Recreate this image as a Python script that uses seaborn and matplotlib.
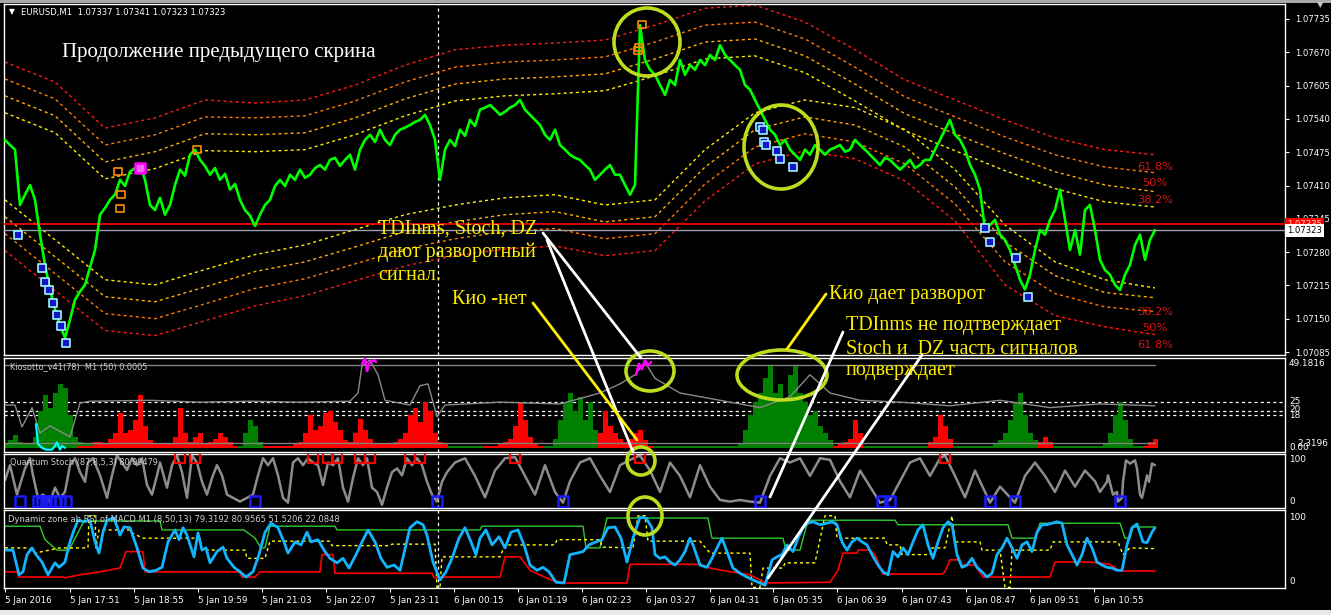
import numpy as np
import matplotlib
matplotlib.use("Agg")
import matplotlib.pyplot as plt
from matplotlib.patches import Ellipse, Rectangle
from matplotlib.lines import Line2D
import seaborn as sns

sns.set_theme(style="ticks")
plt.rcParams["font.family"] = ["DejaVu Sans"]
plt.rcParams["axes.facecolor"] = "black"
plt.rcParams["figure.facecolor"] = "black"

# ------------------------------------------------------------------ data
time_ticks = [5, 70, 134, 198, 262, 326, 390, 454, 518, 582, 646, 710, 773, 837, 902, 966, 1030, 1094]
time_labels = ["5 Jan 2016", "5 Jan 17:51", "5 Jan 18:55", "5 Jan 19:59", "5 Jan 21:03", "5 Jan 22:07",
               "5 Jan 23:11", "6 Jan 00:15", "6 Jan 01:19", "6 Jan 02:23", "6 Jan 03:27", "6 Jan 04:31",
               "6 Jan 05:35", "6 Jan 06:39", "6 Jan 07:43", "6 Jan 08:47", "6 Jan 09:51", "6 Jan 10:55"]
day_break = 438

price_ticks = [1.07735, 1.07670, 1.07605, 1.07540, 1.07475, 1.07410, 1.07345, 1.07280, 1.07215, 1.07150, 1.07085]
ask_level = 1.07335
bid_level = 1.07323

close = [
    1.07499, 1.07489, 1.07480, 1.07372, 1.07392, 1.07411, 1.07382, 1.07314, 1.07255, 1.07207,
    1.07168, 1.07138, 1.07113, 1.07148, 1.07187, 1.07203, 1.07216, 1.07250, 1.07284, 1.07353,
    1.07366, 1.07382, 1.07392, 1.07421, 1.07409, 1.07437, 1.07444, 1.07450, 1.07421, 1.07372,
    1.07362, 1.07386, 1.07353, 1.07372, 1.07411, 1.07441, 1.07429, 1.07470, 1.07480, 1.07460,
    1.07448, 1.07431, 1.07444, 1.07421, 1.07433, 1.07402, 1.07413, 1.07382, 1.07362, 1.07351,
    1.07331, 1.07353, 1.07372, 1.07382, 1.07409, 1.07421, 1.07409, 1.07431, 1.07421, 1.07441,
    1.07425, 1.07431, 1.07444, 1.07450, 1.07441, 1.07460, 1.07464, 1.07448, 1.07460, 1.07470,
    1.07441, 1.07480, 1.07499, 1.07509, 1.07495, 1.07519, 1.07499, 1.07489, 1.07509, 1.07519,
    1.07523, 1.07528, 1.07534, 1.07538, 1.07548, 1.07528, 1.07499, 1.07421, 1.07480, 1.07499,
    1.07487, 1.07519, 1.07507, 1.07538, 1.07526, 1.07558, 1.07562, 1.07567, 1.07558, 1.07548,
    1.07554, 1.07562, 1.07567, 1.07577, 1.07558, 1.07548, 1.07538, 1.07528, 1.07509, 1.07499,
    1.07519, 1.07489, 1.07480, 1.07470, 1.07464, 1.07460, 1.07450, 1.07441, 1.07421, 1.07431,
    1.07441, 1.07450, 1.07431, 1.07431, 1.07411, 1.07392, 1.07411, 1.07723, 1.07655, 1.07636,
    1.07626, 1.07606, 1.07587, 1.07616, 1.07606, 1.07655, 1.07626, 1.07645, 1.07636, 1.07655,
    1.07645, 1.07665, 1.07655, 1.07684, 1.07665, 1.07655, 1.07645, 1.07636, 1.07606, 1.07597,
    1.07577, 1.07558, 1.07538, 1.07519, 1.07509, 1.07489, 1.07499, 1.07480, 1.07470, 1.07460,
    1.07480, 1.07470, 1.07489, 1.07480, 1.07470, 1.07480, 1.07484, 1.07489, 1.07476, 1.07480,
    1.07499, 1.07489, 1.07480, 1.07470, 1.07460, 1.07450, 1.07464, 1.07460, 1.07450, 1.07441,
    1.07450, 1.07460, 1.07444, 1.07450, 1.07460, 1.07460, 1.07480, 1.07499, 1.07519, 1.07538,
    1.07509, 1.07499, 1.07480, 1.07450, 1.07431, 1.07402, 1.07323, 1.07333, 1.07343, 1.07314,
    1.07304, 1.07284, 1.07255, 1.07226, 1.07207, 1.07236, 1.07284, 1.07323, 1.07314, 1.07343,
    1.07362, 1.07402, 1.07343, 1.07284, 1.07323, 1.07275, 1.07362, 1.07372, 1.07323, 1.07265,
    1.07245, 1.07236, 1.07216, 1.07206, 1.07236, 1.07255, 1.07294, 1.07314, 1.07265, 1.07304,
    1.07323,
]

band_upper_red = [1.07651, 1.07612, 1.07522, 1.07542, 1.07577, 1.07571, 1.07577, 1.07606, 1.07645, 1.07675,
                  1.07684, 1.07688, 1.07694, 1.07723, 1.07756, 1.07762, 1.07729, 1.07675, 1.07616, 1.07577,
                  1.07538, 1.07503, 1.07480, 1.07470]
band_upper_orange = [1.07618, 1.07579, 1.07489, 1.07509, 1.07544, 1.07542, 1.07546, 1.07575, 1.07612, 1.07641,
                     1.07651, 1.07655, 1.07661, 1.07690, 1.07723, 1.07729, 1.07696, 1.07641, 1.07583, 1.07544,
                     1.07505, 1.07470, 1.07446, 1.07435]
band_upper_gold = [1.07585, 1.07546, 1.07456, 1.07476, 1.07511, 1.07509, 1.07513, 1.07542, 1.07579, 1.07608,
                   1.07618, 1.07622, 1.07628, 1.07657, 1.07690, 1.07696, 1.07663, 1.07608, 1.07550, 1.07511,
                   1.07472, 1.07437, 1.07411, 1.07398]
band_upper_yellow = [1.07552, 1.07513, 1.07423, 1.07443, 1.07478, 1.07476, 1.07480, 1.07509, 1.07546, 1.07575,
                     1.07585, 1.07589, 1.07595, 1.07624, 1.07657, 1.07663, 1.07630, 1.07575, 1.07517, 1.07478,
                     1.07439, 1.07404, 1.07378, 1.07368]
band_lower_yellow = [1.07382, 1.07304, 1.07226, 1.07216, 1.07246, 1.07275, 1.07294, 1.07324, 1.07353, 1.07372,
                     1.07386, 1.07392, 1.07372, 1.07382, 1.07480, 1.07552, 1.07577, 1.07562, 1.07519, 1.07441,
                     1.07333, 1.07261, 1.07226, 1.07210]
band_lower_gold = [1.07349, 1.07271, 1.07193, 1.07183, 1.07212, 1.07242, 1.07261, 1.07290, 1.07320, 1.07339,
                   1.07353, 1.07359, 1.07339, 1.07349, 1.07446, 1.07519, 1.07544, 1.07528, 1.07485, 1.07407,
                   1.07300, 1.07234, 1.07201, 1.07191]
band_lower_orange = [1.07316, 1.07238, 1.07160, 1.07150, 1.07179, 1.07209, 1.07228, 1.07257, 1.07286, 1.07306,
                     1.07320, 1.07326, 1.07306, 1.07316, 1.07413, 1.07485, 1.07511, 1.07495, 1.07452, 1.07374,
                     1.07261, 1.07199, 1.07173, 1.07164]
band_lower_red = [1.07283, 1.07205, 1.07127, 1.07117, 1.07146, 1.07175, 1.07195, 1.07224, 1.07253, 1.07273,
                  1.07286, 1.07292, 1.07273, 1.07283, 1.07380, 1.07452, 1.07478, 1.07462, 1.07419, 1.07341,
                  1.07216, 1.07156, 1.07134, 1.07119]
fib_labels = ["61.8%", "50%", "38.2%", "38.2%", "50%", "61.8%"]
fib_prices = [1.07446, 1.07415, 1.07382, 1.07164, 1.07131, 1.07099]

buy_sig_bar = [18, 42, 45, 49, 53, 57, 61, 66, 760, 763, 764, 766, 777, 780, 793, 985, 990, 1016, 1028]
buy_sig_price = [1.07314, 1.07249, 1.07222, 1.07206, 1.07181, 1.07157, 1.07136, 1.07103, 1.07524, 1.07519,
                 1.07495, 1.07489, 1.07478, 1.07462, 1.07446, 1.07327, 1.07300, 1.07269, 1.07193]
sell_sig_bar = [118, 121, 120, 197, 642, 639, 638]
sell_sig_price = [1.07437, 1.07392, 1.07366, 1.07480, 1.07725, 1.07679, 1.07673]
extreme_sig_bar = [140]
extreme_sig_price = [1.07444]

kio_green = [2, 4, 7, 3, 2, 2, 6, 20, 29, 22,
             30, 35, 33, 18, 6, 3, 2, 2, 1, 0,
             0, 0, 0, 0, 0, 0, 0, 0, 0, 0,
             0, 0, 0, 0, 0, 0, 0, 0, 0, 0,
             0, 0, 0, 0, 0, 0, 0, 1, 8, 15,
             12, 3, 1, 1, 0, 0, 0, 0, 0, 0,
             0, 0, 0, 0, 0, 0, 0, 0, 0, 0,
             0, 0, 0, 0, 0, 0, 0, 0, 0, 0,
             0, 0, 0, 0, 0, 0, 0, 0, 1, 1,
             1, 1, 1, 1, 1, 1, 0, 0, 0, 0,
             0, 0, 0, 0, 0, 0, 0, 0, 1, 1,
             5, 15, 25, 30, 20, 28, 15, 25, 10, 5,
             0, 0, 0, 0, 0, 0, 0, 0, 0, 0,
             1, 1, 1, 1, 1, 1, 1, 1, 1, 1,
             1, 1, 1, 1, 1, 1, 1, 2, 10, 18,
             25, 30, 38, 45, 30, 35, 25, 40, 45, 30,
             25, 18, 20, 12, 8, 4, 0, 0, 0, 0,
             0, 0, 1, 1, 1, 1, 1, 1, 1, 1,
             1, 1, 1, 1, 1, 0, 0, 0, 0, 0,
             1, 1, 1, 1, 1, 1, 1, 1, 2, 4,
             8, 15, 25, 30, 18, 8, 4, 0, 0, 0,
             1, 1, 1, 1, 1, 1, 1, 1, 1, 1,
             2, 8, 18, 25, 15, 5, 1, 1, 1, 0,
             0]
kio_red = [0, 0, 0, 0, 0, 0, 0, 0, 0, 0,
           0, 0, 0, 0, 0, 1, 1, 1, 3, 3,
           2, 5, 8, 19, 8, 10, 15, 29, 12, 4,
           2, 2, 2, 2, 6, 22, 8, 3, 6, 8,
           2, 3, 5, 8, 6, 3, 1, 0, 0, 0,
           0, 0, 1, 1, 1, 1, 1, 1, 2, 3,
           8, 18, 10, 12, 19, 20, 14, 10, 4, 3,
           8, 16, 10, 5, 2, 2, 2, 2, 3, 5,
           8, 18, 22, 14, 25, 20, 8, 3, 2, 0,
           0, 0, 0, 0, 0, 0, 1, 1, 1, 2,
           3, 5, 12, 25, 15, 6, 2, 1, 0, 0,
           0, 0, 0, 0, 0, 0, 0, 0, 0, 8,
           20, 12, 8, 5, 3, 5, 8, 10, 4, 1,
           0, 0, 0, 0, 0, 0, 0, 0, 0, 0,
           0, 0, 0, 0, 0, 0, 0, 0, 0, 0,
           0, 0, 0, 0, 0, 0, 0, 0, 0, 0,
           0, 0, 0, 0, 0, 0, 1, 2, 3, 5,
           15, 8, 0, 0, 0, 0, 0, 0, 0, 0,
           0, 0, 0, 0, 0, 3, 6, 18, 12, 5,
           0, 0, 0, 0, 0, 0, 0, 0, 0, 0,
           0, 0, 0, 0, 0, 0, 0, 3, 6, 3,
           0, 0, 0, 0, 0, 0, 0, 0, 0, 0,
           0, 0, 0, 0, 0, 0, 0, 0, 1, 3,
           5]
kio_line_bar = [5, 15, 22, 32, 40, 50, 60, 70, 80, 90, 150, 200, 250, 300, 350, 358, 362, 370, 378, 385, 410,
                420, 428, 437, 445, 500, 560, 600, 620, 635, 645, 655, 680, 720, 760, 790, 810, 830, 860, 900,
                950, 1000, 1050, 1100, 1155]
kio_line_val = [23.4, 23.4, 11.4, 22, 8.1, 12, 9, 6, 24.5, 25.5, 26, 25, 25.5, 25, 25.5, 30, 45, 48, 40, 26, 23.4,
                34, 35, 17, 23.4, 25, 24, 30, 35, 40, 47, 38, 30, 26, 22, 28, 40, 30, 26, 25,
                23, 26, 22, 24, 23]
kio_magenta_bar = [362, 365, 367, 370, 374, 376]
kio_magenta_val = [46, 49, 42, 47, 48, 47]
kio_magenta2_bar = [636, 639, 642, 645, 648, 651]
kio_magenta2_val = [40, 46, 43, 48, 45, 47]
kio_cyan_bar = [36, 38, 42, 46, 52, 55, 57, 60, 62, 65]
kio_cyan_val = [13, 2, 0, -1, -1, 1, 3, -1, 1, 0]
kio_top_level = 45.2
kio_bottom_level = 2.7
kio_levels = [25, 20, 18]

stoch_bar = [5, 10, 17, 25, 30, 33, 38, 43, 50, 55, 60, 65, 70, 75, 80, 85, 88, 93, 100, 107, 112, 117, 122, 127,
             132, 137, 142, 147, 152, 157, 160, 167, 172, 177, 182, 187, 192, 197, 202, 207, 212, 217, 222, 227,
             233, 240, 247, 253, 258, 263, 268, 273, 278, 283, 288, 293, 298, 303, 308, 313, 318, 323, 328, 333,
             338, 343, 348, 353, 358, 363, 367, 372, 377, 382, 387, 392, 397, 402, 407, 412, 417, 422, 427, 432,
             437, 442, 447, 455, 465, 475, 485, 495, 505, 515, 525, 535, 545, 555, 563, 570, 580, 590, 600, 610,
             620, 630, 640, 650, 660, 670, 680, 690, 700, 710, 720, 730, 740, 750, 760, 770, 780, 790, 800, 810,
             820, 830, 840, 850, 860, 870, 880, 890, 900, 910, 920, 930, 940, 945, 955, 965, 975, 985, 990, 1000,
             1010, 1015, 1025, 1035, 1045, 1055, 1065, 1075, 1085, 1095, 1100, 1107, 1108, 1113, 1117, 1118, 1122,
             1123, 1126, 1130, 1135, 1137, 1140, 1142, 1145, 1147, 1149, 1152, 1155]
stoch_val = [52, 80, 25, 74, 93, 61, 19, 25, 12, 38, 19, 30, 80, 93, 67, 49, 85, 93, 61, 19, 61, 98, 85, 71,
             93, 80, 93, 43, 25, 61, 85, 38, 80, 98, 67, 19, 98, 85, 49, 25, 56, 80, 61, 25,
             19, 12, 19, 25, 61, 93, 80, 93, 61, 19, 10, 85, 93, 80, 93, 85, 80, 43, 85, 80,
             93, 38, 12, 56, 93, 80, 93, 38, 30, 6, 38, 67, 74, 61, 93, 80, 93, 80, 49, 25,
             12, 49, 67, 85, 93, 60, 20, 70, 93, 95, 60, 25, 80, 30, 10, 50, 85, 93, 60, 30,
             80, 90, 98, 70, 30, 85, 60, 20, 80, 40, 15, 12, 15, 12, 10, 60, 93, 85, 93, 60,
             93, 90, 50, 20, 70, 40, 10, 15, 50, 85, 93, 60, 93, 98, 60, 20, 70, 30, 10, 40,
             20, 10, 60, 85, 60, 30, 70, 40, 70, 50, 30, 49, 61, 25, 30, 12, 19,
             49, 89, 83, 89, 74, 25, 19, 43, 61, 49, 83, 80]
stoch_ob_bar = [180, 195, 313, 328, 337, 360, 370, 410, 420, 515, 640, 945]
stoch_os_bar = [20, 38, 42, 46, 50, 55, 60, 66, 255, 437, 563, 760, 882, 890, 990, 1015, 1120]
stoch_ob_val = [93] * len(stoch_ob_bar)
stoch_os_val = [12] * len(stoch_os_bar)

dz_bar = [6, 13, 19, 23, 27, 32, 36, 42, 48, 55, 59, 65, 69, 74, 78, 84, 90, 95, 99, 103, 107, 114, 120, 124,
          130, 137, 143, 149, 156, 162, 168, 175, 179, 183, 187, 194, 198, 202, 206, 210, 217, 223, 227, 234,
          240, 246, 253, 259, 265, 271, 278, 284, 288, 295, 301, 307, 311, 318, 324, 330, 337, 343, 349, 356,
          362, 368, 375, 381, 387, 394, 400, 406, 410, 417, 423, 427, 433, 440, 446, 452, 459, 465, 471, 476,
          480, 486, 492, 499, 505, 511, 518, 524, 530, 537, 543, 549, 556, 564, 570, 577, 583, 589, 596, 602,
          608, 615, 621, 627, 633, 640, 646, 652, 655, 660, 665, 670, 675, 680, 685, 690, 693, 700, 707, 712,
          717, 722, 727, 733, 740, 747, 753, 760, 765, 768, 772, 777, 782, 787, 793, 798, 803, 808, 813, 820,
          827, 832, 837, 842, 847, 852, 857, 862, 867, 872, 878, 883, 888, 893, 898, 903, 908, 913, 918, 923,
          928, 933, 938, 943, 948, 952, 957, 962, 967, 972, 977, 982, 987, 992, 997, 1002, 1007, 1012, 1017,
          1022, 1027, 1032, 1037, 1042, 1047, 1052, 1057, 1062, 1067, 1072, 1077, 1082, 1087, 1092, 1097,
          1102, 1107, 1112, 1117, 1122, 1127, 1132, 1137, 1143, 1147, 1152, 1155]
dz_rsi = [50, 50, 17, 21, 44, 53, 44, 34, 17, 33, 27, 34, 57, 77, 90, 88, 90, 61, 46, 74, 90, 93, 70, 81,
          80, 53, 26, 21, 23, 27, 61, 77, 64, 80, 70, 41, 73, 50, 53, 33, 48, 54, 39, 27,
          21, 14, 21, 44, 74, 86, 80, 61, 46, 61, 57, 74, 61, 64, 50, 39, 33, 39, 26, 44,
          61, 77, 61, 39, 27, 30, 23, 57, 80, 88, 84, 70, 34, 10, 21, 39, 66, 80, 61, 44,
          66, 77, 57, 68, 53, 74, 77, 57, 30, 23, 27, 21, 7, 6, 44, 46, 48, 57, 61, 64,
          80, 81, 66, 34, 66, 94, 93, 80, 44, 39, 41, 34, 30, 37, 48, 66, 57, 30, 27, 39,
          53, 66, 48, 26, 19, 14, 10, 6, 3, 17, 37, 41, 44, 57, 48, 66, 80, 86, 88, 84,
          86, 88, 84, 61, 50, 61, 66, 61, 57, 44, 30, 21, 17, 48, 41, 53, 44, 61, 77, 84,
          57, 39, 61, 80, 88, 84, 44, 27, 30, 39, 27, 21, 14, 19, 44, 53, 66, 53, 39,
          57, 61, 48, 74, 84, 84, 86, 88, 86, 57, 44, 30, 44, 66, 53, 34,
          30, 27, 26, 23, 23, 57, 80, 85, 61, 60, 74, 80]
dz_up_bar = [5, 40, 45, 57, 69, 84, 160, 162, 244, 255, 261, 265, 270, 335, 337, 480, 482, 583, 586, 600, 607,
             708, 712, 783, 786, 800, 808, 895, 898, 1008, 1012, 1035, 1040, 1120, 1125, 1130, 1133, 1155]
dz_up_val = [82, 82, 64, 50, 50, 89, 89, 77, 77, 66, 53, 53, 82, 82, 77, 77, 82, 82, 53, 53, 93,
             93, 66, 66, 50, 50, 90, 90, 84, 84, 66, 66, 86, 86, 66, 66, 81, 81]
dz_mid_bar = [5, 28, 35, 60, 88, 89, 95, 96, 99, 130, 132, 143, 200, 202, 245, 247, 265, 268, 270, 330, 332,
              390, 392, 435, 437, 440, 442, 500, 505, 555, 557, 600, 602, 633, 638, 645, 648, 700, 710, 750,
              752, 760, 763, 783, 785, 815, 825, 835, 837, 885, 887, 900, 902, 930, 932, 945, 952, 955, 980,
              982, 1000, 1005, 1010, 1012, 1050, 1053, 1118, 1123, 1130, 1155]
dz_mid_val = [53, 53, 46, 53, 53, 96, 96, 53, 77, 77, 73, 66, 66, 50, 50, 39, 39, 53, 62, 62, 56,
              56, 58, 58, 0, 0, 41, 41, 57, 57, 64, 64, 54, 53, 96, 96, 62, 62, 46, 46,
              0, 0, 26, 26, 33, 33, 96, 96, 66, 66, 57, 57, 44, 44, 53, 53, 96, 61, 61,
              50, 50, 0, 0, 50, 50, 61, 61, 44, 53, 52]
dz_lo_bar = [5, 17, 19, 63, 65, 80, 100, 120, 126, 143, 145, 240, 242, 255, 260, 320, 322, 333, 335, 432, 434,
             440, 442, 500, 505, 520, 530, 551, 565, 627, 630, 700, 710, 730, 750, 760, 765, 830, 838, 843,
             857, 858, 870, 875, 883, 942, 945, 950, 960, 962, 975, 983, 1050, 1055, 1090, 1110, 1120, 1155]
dz_lo_val = [21, 21, 14, 14, 13, 17, 21, 26, 48, 48, 21, 21, 14, 14, 21, 21, 44, 44, 19, 19, 13,
             13, 14, 14, 41, 41, 23, 10, 6, 6, 31, 31, 26, 21, 17, 10, 6, 7, 23, 46,
             46, 50, 50, 44, 18, 18, 21, 37, 37, 30, 30, 14, 14, 34, 34, 31, 22, 22]

# ------------------------------------------------------------------ layout helpers
W, H = 1331, 615
fig = plt.figure(figsize=(W / 100, H / 100), dpi=100, facecolor="black")


def box(x0, y0, x1, y1):
    return [x0 / W, 1 - y1 / H, (x1 - x0) / W, (y1 - y0) / H]


def fx(x):
    return x / W


def fy(y):
    return 1 - y / H


def style_ax(ax):
    ax.set_facecolor("black")
    for s in ax.spines.values():
        s.set_color("white")
        s.set_linewidth(1.0)
    ax.set_xlim(4, 1285)
    ax.tick_params(axis="x", bottom=False, labelbottom=False)
    ax.tick_params(axis="y", left=False, labelleft=False, right=False, labelright=False)
    ax.set_xlabel("")
    ax.set_ylabel("")


DASH = (0, (2.2, 2.2))


def line(ax, x, y, color, lw=1.0, ls="-", z=2):
    sns.lineplot(x=np.asarray(x, float), y=np.asarray(y, float), ax=ax, color=color, linewidth=lw,
                 linestyle=ls, estimator=None, sort=False, legend=False, zorder=z)


ax_m = fig.add_axes(box(4, 4, 1285, 355))
ax_k = fig.add_axes(box(4, 358, 1285, 452))
ax_s = fig.add_axes(box(4, 454, 1285, 508))
ax_d = fig.add_axes(box(4, 510, 1285, 588))
for a in (ax_m, ax_k, ax_s, ax_d):
    style_ax(a)
    a.axvline(day_break, color="white", lw=0.9, linestyle=(0, (2.5, 2.5)), zorder=1)

# ------------------------------------------------------------------ main price chart
ppx = 0.0065 / 333.0
ax_m.set_ylim(1.07735 - 336 * ppx, 1.07735 + 15 * ppx)
bars = np.arange(5, 5 + 5 * len(close), 5)
band_bars = np.arange(5, 5 + 50 * len(band_upper_red), 50)
band_style = [(band_upper_red, "#ff1a1a"), (band_upper_orange, "#ff7a00"), (band_upper_gold, "#ffb000"),
              (band_upper_yellow, "#ffee00"), (band_lower_yellow, "#ffee00"), (band_lower_gold, "#ffb000"),
              (band_lower_orange, "#ff7a00"), (band_lower_red, "#ff1a1a")]
for vals, col in band_style:
    line(ax_m, band_bars, vals, col, lw=1.0, ls=DASH, z=2)

ax_m.axhline(ask_level, color="#ff0000", lw=1.2, zorder=3)
ax_m.axhline(bid_level, color="#9aa0b0", lw=1.0, zorder=3)
line(ax_m, bars, close, "#00ff00", lw=1.9, z=4)

sns.scatterplot(x=buy_sig_bar, y=buy_sig_price, ax=ax_m, marker="s", s=34, color="#1515c8",
                edgecolor="#9ff5ff", linewidth=1.2, zorder=5, legend=False)
sns.scatterplot(x=sell_sig_bar, y=sell_sig_price, ax=ax_m, marker="s", s=26, facecolor="none",
                edgecolor="#ff8c00", linewidth=1.2, zorder=5, legend=False)
sns.scatterplot(x=extreme_sig_bar, y=extreme_sig_price, ax=ax_m, marker="s", s=60, facecolor="#ff60ff",
                edgecolor="#ff00ff", linewidth=1.8, zorder=5, legend=False)

for lab, pr in zip(fib_labels, fib_prices):
    xoff = 1142 if lab == "50%" else 1137
    ax_m.text(xoff, pr, lab, color="#e01010", fontsize=8.2, va="center", ha="left", zorder=6)

ax_m.set_yticks(price_ticks)
ax_m.set_yticklabels([f"{p:.5f}" for p in price_ticks])
ax_m.tick_params(axis="y", right=True, labelright=True, colors="white", length=3, width=0.8,
                 labelsize=6.1, pad=4)
fig.text(fx(9), fy(12), "\u25bc", color="white", fontsize=5.5, va="center", ha="left")
fig.text(fx(21), fy(12), "EURUSD,M1  1.07337 1.07341 1.07323 1.07323", color="white", fontsize=6.1,
         va="center", ha="left")

fig.text(fx(1287), fy(224.5), "1.07335", color="#ffd0d0", fontsize=6.1, va="center", ha="left",
         bbox=dict(boxstyle="square,pad=0.2", fc="#ff0000", ec="none"), zorder=7)
fig.text(fx(1287), fy(230.5), "1.07323", color="black", fontsize=6.1, va="center", ha="left",
         bbox=dict(boxstyle="square,pad=0.2", fc="white", ec="none"), zorder=8)

# ------------------------------------------------------------------ Kiosotto
ax_k.set_ylim(-2.32, 49.18)
kbars = np.arange(5, 5 + 5 * len(kio_green), 5)
ax_k.bar(kbars, kio_green, width=5, color="#008000", linewidth=0, zorder=2)
ax_k.bar(kbars, kio_red, width=5, color="#ff0000", linewidth=0, zorder=2)
for lv in kio_levels:
    ax_k.axhline(lv, color="white", lw=0.9, linestyle=(0, (2.5, 2.5)), zorder=1)
line(ax_k, [5, 1155], [kio_top_level, kio_top_level], "#808080", lw=1.0, z=1)
line(ax_k, [5, 1155], [kio_bottom_level, kio_bottom_level], "#808080", lw=1.0, z=3)
line(ax_k, kio_line_bar, kio_line_val, "#8a8a8a", lw=1.0, z=3)
line(ax_k, kio_magenta_bar, kio_magenta_val, "#ff00ff", lw=1.8, z=4)
line(ax_k, kio_magenta2_bar, kio_magenta2_val, "#ff00ff", lw=1.8, z=4)
line(ax_k, kio_cyan_bar, kio_cyan_val, "#00ffff", lw=1.6, z=4)
fig.text(fx(10), fy(367), "Kiosotto_v41(78)  M1 (50) 0.0005", color="#d0d0d0",
         fontsize=5.9, va="center", ha="left")

# ------------------------------------------------------------------ Quantum stoch
ax_s.set_ylim(0, 100 + 0.5 / 0.545)
line(ax_s, stoch_bar, stoch_val, "#8c8c8c", lw=1.8, z=2)
sns.scatterplot(x=stoch_ob_bar, y=stoch_ob_val, ax=ax_s, marker="s", s=55, facecolor="none",
                edgecolor="#ff0000", linewidth=1.6, zorder=3, legend=False)
sns.scatterplot(x=stoch_os_bar, y=stoch_os_val, ax=ax_s, marker="s", s=55, facecolor="none",
                edgecolor="#1a1aff", linewidth=1.8, zorder=3, legend=False)
fig.text(fx(10), fy(463), "Quantum Stoch (87,8,5,3) 80.09479", color="#d0d0d0",
         fontsize=5.9, va="center", ha="left", zorder=6)

# ------------------------------------------------------------------ Dynamic zone
ax_d.set_ylim(-0.7, 103.7)
line(ax_d, dz_up_bar, dz_up_val, "#2ecc2e", lw=1.0, z=2)
line(ax_d, dz_mid_bar, dz_mid_val, "#ffff00", lw=1.0, ls=DASH, z=2)
line(ax_d, dz_lo_bar, dz_lo_val, "#ff0000", lw=1.2, z=2)
line(ax_d, dz_bar, dz_rsi, "#12b4ff", lw=2.0, z=3)
fig.text(fx(8), fy(519), "Dynamic zone ab RSI of MACD M1 (8,50,13) 79.3192 80.9565 51.5206 22.0848",
         color="#d0d0d0", fontsize=6.05, va="center", ha="left", zorder=6)

ax_d.set_xticks(time_ticks)
ax_d.set_xticklabels(time_labels, ha="left")
ax_d.tick_params(axis="x", bottom=True, labelbottom=True, colors="white", length=3, width=0.8,
                 labelsize=6.3, pad=3)

for txt, y in [("49.1816", 364), ("25", 401), ("20", 409), ("18", 416), ("0.00", 447), ("2.3196", 443),
               ("100", 460), ("0", 501), ("100", 517), ("0", 582)]:
    xx = 1297 if txt == "2.3196" else 1289
    fig.text(fx(xx), fy(y), txt, color="white", fontsize=6.4, va="center", ha="left")

# ------------------------------------------------------------------ window chrome
fig.add_artist(Rectangle((0, fy(3)), 1, 3 / H, transform=fig.transFigure, fc="#a8a8a8", ec="none"))
fig.add_artist(Rectangle((0, 0), 1, 5 / H, transform=fig.transFigure, fc="#e8e8e8", ec="none"))
fig.text(fx(1320), fy(5), "\u25bc", color="#c8c8c8", fontsize=6, ha="center", va="center")

# ------------------------------------------------------------------ annotations
circ_col = "#bcdc1e"
for cx, cy, rx, ry in [(647, 42, 33, 34), (781, 147, 37, 42), (650, 371, 24, 20), (782, 375, 45, 25),
                       (641, 461, 14, 14), (645, 516, 17, 19)]:
    fig.add_artist(Ellipse((fx(cx), fy(cy)), 2 * rx / W, 2 * ry / H, transform=fig.transFigure,
                           fill=False, ec=circ_col, lw=2.6, zorder=9))

for (x0, y0, x1, y1, col) in [(543, 233, 641, 358, "white"), (547, 240, 633, 452, "white"),
                              (533, 303, 637, 440, "#ffee00"), (826, 294, 787, 349, "#ffee00"),
                              (843, 332, 770, 497, "white"), (922, 355, 768, 578, "white")]:
    fig.add_artist(Line2D([fx(x0), fx(x1)], [fy(y0), fy(y1)], transform=fig.transFigure, color=col,
                          lw=2.0, zorder=9))

serif = ["Liberation Serif", "DejaVu Serif"]
fig.text(fx(62), fy(52), "Продолжение предыдущего скрина", color="white", fontsize=15,
         family=serif, va="center", ha="left", zorder=10)
ycol = "#ffee00"
for txt, x, y in [("TDInms, Stoch, DZ", 378, 229), ("дают разворотный", 378, 252), ("сигнал.", 378, 276),
                  ("Кио -нет", 452, 299), ("Кио дает разворот", 829, 294),
                  ("TDInms не подтверждает", 846, 326), ("Stoch и  DZ часть сигналов", 846, 349),
                  ("подверждает", 846, 371)]:
    fig.text(fx(x), fy(y), txt, color=ycol, fontsize=14.5, family=serif, va="center", ha="left", zorder=10)

fig.savefig("out.png", dpi=100, facecolor="black")
